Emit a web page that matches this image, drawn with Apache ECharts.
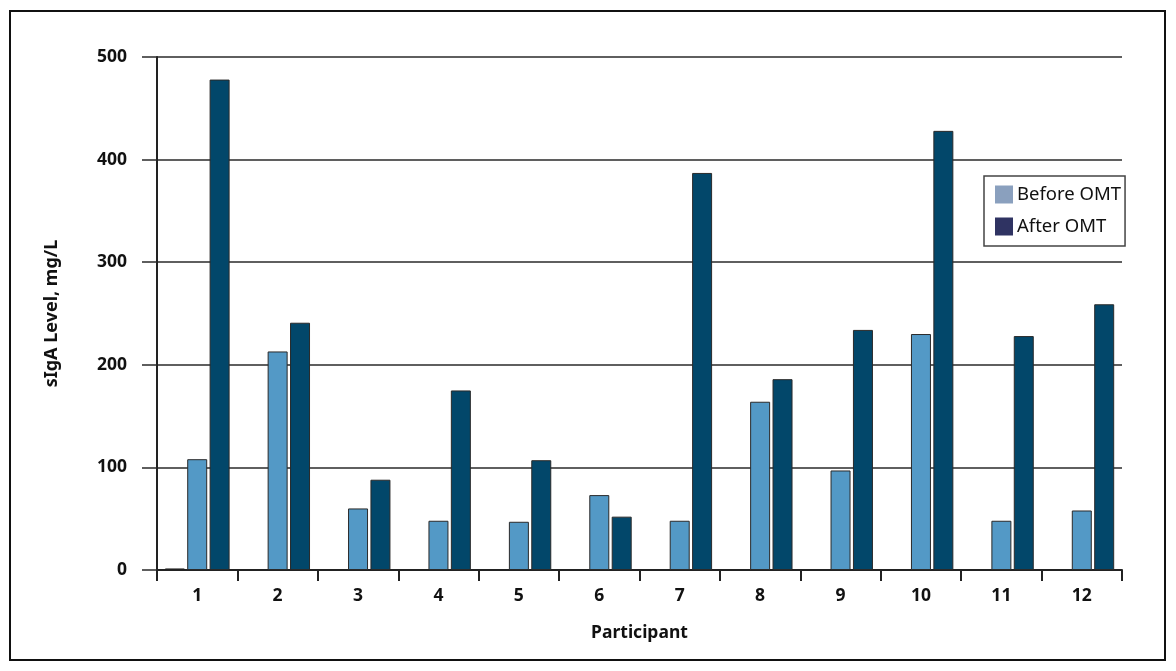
<!DOCTYPE html>
<html>
<head>
<meta charset="utf-8">
<script src="https://cdn.jsdelivr.net/npm/echarts@6/dist/echarts.min.js"></script>
<style>
html,body{margin:0;padding:0;background:#fff;}
#chart{width:1176px;height:671px;}
</style>
</head>
<body>
<div id="chart"></div>
<script>
const participants = ['1','2','3','4','5','6','7','8','9','10','11','12'];
const baselineMark = [1.5, null, null, null, null, null, null, null, null, null, null, null];
const beforeOMT = [108, 213, 60, 48, 47, 73, 48, 164, 97, 230, 48, 58];
const afterOMT = [478, 241, 88, 175, 107, 52, 387, 186, 234, 428, 228, 259];
const yTicks = [0, 100, 200, 300, 400, 500];

const FONT = '"Noto Sans", "Open Sans", sans-serif';
const chart = echarts.init(document.getElementById('chart'), null, {renderer: 'canvas'});

chart.setOption({
  backgroundColor: '#ffffff',
  animation: false,
  textStyle: {fontFamily: FONT},
  graphic: [{
    type: 'rect',
    shape: {x: 10, y: 11, width: 1155, height: 649},
    style: {fill: 'none', stroke: '#111', lineWidth: 2},
    z: -1
  }],
  grid: {left: 157, right: 54, top: 57, bottom: 101, containLabel: false},
  legend: {
    show: true,
    orient: 'vertical',
    left: 984,
    top: 176,
    itemWidth: 18,
    itemHeight: 18,
    itemGap: 13,
    padding: [9, 4, 10, 11],
    borderColor: '#444',
    borderWidth: 1.5,
    icon: 'rect',
    textStyle: {fontFamily: FONT, fontSize: 18.5, color: '#111', padding: [0, 0, 0, -1]},
    data: [
      {name: 'Before OMT', itemStyle: {color: '#8aa0be', borderWidth: 0}},
      {name: 'After OMT', itemStyle: {color: '#2f3362', borderWidth: 0}}
    ]
  },
  xAxis: {
    type: 'category',
    data: participants,
    name: 'Participant',
    nameLocation: 'middle',
    nameGap: 54,
    nameTextStyle: {fontFamily: FONT, fontSize: 17.5, fontWeight: 'bold', color: '#111'},
    axisLine: {show: true, lineStyle: {color: '#222', width: 2}},
    axisTick: {show: true, length: 11, lineStyle: {color: '#222', width: 2}, alignWithLabel: false},
    axisLabel: {fontFamily: FONT, fontSize: 17.5, fontWeight: 'bold', color: '#111', margin: 17},
    splitLine: {show: false}
  },
  yAxis: {
    type: 'value',
    min: 0,
    max: 500,
    interval: 100,
    name: 'sIgA Level, mg/L',
    nameLocation: 'middle',
    nameGap: 96,
    nameRotate: 90,
    nameTextStyle: {fontFamily: FONT, fontSize: 18, fontWeight: 'bold', color: '#111'},
    axisLine: {show: true, lineStyle: {color: '#222', width: 2}},
    axisTick: {show: true, length: 15, lineStyle: {color: '#2a2a2a', width: 1.5}},
    axisLabel: {
      fontFamily: FONT, fontSize: 17.5, fontWeight: 'bold', color: '#111', margin: 30,
      formatter: function (v) { return yTicks.indexOf(v) >= 0 ? String(v) : ''; }
    },
    splitLine: {show: true, lineStyle: {color: '#2a2a2a', width: 1.5}}
  },
  series: [
    {
      name: 'baseline',
      type: 'bar',
      data: baselineMark,
      barWidth: 20,
      barGap: '12%',
      barCategoryGap: '19%',
      itemStyle: {color: '#222', borderColor: '#222', borderWidth: 1},
      silent: true
    },
    {
      name: 'Before OMT',
      type: 'bar',
      data: beforeOMT,
      barWidth: 20,
      barGap: '12%',
      itemStyle: {color: '#5399c6', borderColor: '#2a2a2a', borderWidth: 1}
    },
    {
      name: 'After OMT',
      type: 'bar',
      data: afterOMT,
      barWidth: 20,
      barGap: '12%',
      itemStyle: {color: '#02476a', borderColor: '#2a2a2a', borderWidth: 1}
    }
  ]
});
</script>
</body>
</html>
